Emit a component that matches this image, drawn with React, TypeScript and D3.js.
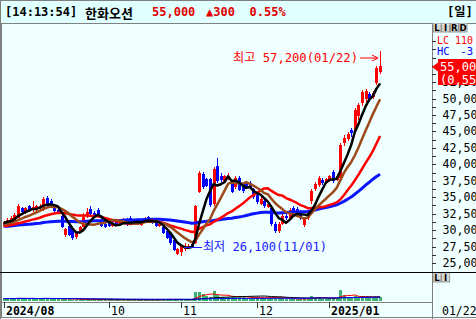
import React from "react";
import * as d3 from "d3";

const W = 476;
const H = 319;

// 2024/08/16 .. 2025/01/22 daily candles
const opens = [
  30800, 31000, 31300, 31600, 31900, 33400, 32600, 33700, 33000, 33000, 33300,
  33000, 34900, 34500, 33300, 33100, 32200, 29300, 30700, 30200, 28900, 29900,
  30500, 32000, 33200, 32600, 33000, 31600, 31000,
  31100, 30700, 31200, 30800, 31200, 31600, 31900, 31000, 31400, 30800, 31300,
  32000, 31500, 31200, 30700, 30400, 29800, 29500, 28500, 26400,
  26700, 27100, 27300, 27900, 28000, 35800, 38500, 37800, 37700, 33900, 39800,
  38300, 37500, 37800, 37300, 36500, 38000, 37000, 37000, 37200, 36200,
  35300, 34000, 34500, 33500, 33300, 31000, 29800, 31000, 32200, 31900, 33300,
  33200, 32600, 30800, 31800, 34400, 36200, 36800, 37600, 37200,
  37500, 38800, 37600, 38000, 43300, 43800, 45200, 45200, 47300, 49300, 49900,
  50700, 50200, 52400, 54000,
];
const highs = [
  31400, 31900, 32200, 32600, 33900, 33500, 33500, 33800, 34500, 33800, 33900,
  35000, 35200, 34700, 33500, 33300, 32400, 30300, 30900, 30400, 29800, 30700,
  32600, 33400, 33700, 32900, 33400, 31800, 31200,
  31300, 31300, 31400, 31200, 31900, 31800, 32100, 31600, 31600, 31700, 32000,
  32200, 31700, 31400, 31200, 30600, 30000, 29700, 28700, 27300,
  27800, 28000, 27900, 28200, 33800, 39000, 38800, 38000, 38000, 39600, 41000,
  38700, 38400, 38700, 37500, 38200, 38300, 37200, 37300, 37400, 36400,
  35600, 35200, 34700, 34300, 33500, 31200, 31200, 32500, 32400, 33400, 33600,
  33500, 32800, 32000, 32800, 36300, 37300, 38300, 38000, 38000,
  38400, 39200, 38500, 43300, 44500, 44900, 45500, 48600, 49400, 51300, 51500,
  51000, 51200, 55000, 57200,
];
const lows = [
  30600, 30800, 31100, 31400, 31800, 32500, 32400, 32800, 32800, 32900, 33100,
  32900, 33400, 33600, 32700, 32500, 30300, 29000, 29100, 28500, 28700, 29700,
  30400, 31800, 32300, 32000, 32100, 30400, 30300,
  30400, 30500, 30600, 30600, 31000, 30700, 30800, 30900, 30900, 30700, 31200,
  31300, 30900, 30500, 30500, 29400, 28600, 27800, 26800, 26200,
  26100, 26900, 27100, 27300, 27900, 35600, 36300, 36500, 33500, 33700, 37200,
  37300, 37300, 37600, 35600, 36300, 35900, 35700, 36200, 36300, 34800,
  34000, 33800, 33300, 33300, 30600, 29600, 29500, 30800, 31500, 31700, 32600,
  32200, 31600, 30500, 31600, 34000, 36000, 36600, 36800, 37000,
  37300, 37200, 37400, 37800, 42800, 43500, 44200, 45000, 46800, 48900, 49500,
  49500, 49900, 52000, 53800,
];
const closes = [
  31300, 31600, 31900, 32300, 33600, 32700, 33300, 33000, 33500, 33600, 33700,
  34800, 33700, 33900, 32900, 32700, 30500, 30100, 29300, 28800, 29500, 30400,
  32000, 32800, 32400, 32200, 32300, 30600, 30500,
  30600, 31100, 30800, 31000, 31700, 30900, 31000, 31400, 31100, 31500, 31800,
  31400, 31100, 30700, 31000, 29600, 28800, 28000, 27000, 27100,
  27600, 27300, 27600, 27500, 33700, 38700, 36600, 36700, 33800, 39300, 37500,
  37600, 38200, 38300, 35800, 37900, 36100, 35900, 36400, 36500, 35000,
  34300, 34800, 33600, 34000, 30900, 29800, 30900, 32200, 31800, 33100, 32800,
  32500, 31800, 31700, 32600, 36000, 37000, 38000, 37200, 37800,
  38200, 37500, 38300, 43000, 44000, 44600, 44700, 48200, 49000, 51000, 51200,
  49800, 50900, 54700, 55000,
];
const volumes = [
  2500, 2300, 2600, 2400, 3100, 2500, 2400, 2300, 2800, 2200, 2100,
  3300, 2600, 2300, 2100, 1900, 2700, 2000, 2200, 1500, 1400, 1300,
  1500, 1400, 1300, 1200, 1300, 1400, 1200,
  1300, 1100, 1200, 1400, 1000, 1200, 1100, 1300, 1500, 1200, 1100,
  1000, 1300, 1400, 1600, 1500, 1800, 1700, 1500, 1600,
  1500, 1300, 1400, 1200, 9000, 8700, 7000, 5000, 4500, 10000, 6000,
  4500, 4000, 4200, 5000, 4500, 4000, 3600, 3500, 3200, 3800,
  3500, 3000, 3300, 2800, 4000, 3800, 3200, 3000, 2000, 2500, 1800,
  1600, 2200, 2800, 2300, 5000, 3000, 4000, 2500, 2200,
  2800, 3000, 2600, 11000, 6000, 4500, 3800, 5000, 4200, 4800, 3900,
  3500, 3400, 4300, 4300,
];
// closes before 2024/08/16, used only for the moving averages
const priorCloses = [
  29800, 30200, 30600, 30100, 29700, 29900, 30400, 30800, 31200, 30900,
  30500, 30000, 29600, 29900, 30300, 30700, 31100, 31400, 31000, 30600,
  30200, 30500, 30900, 31300, 31000, 30700, 30300, 29900, 30200, 30600,
  31000, 30800, 30400, 30100, 30500, 30900, 31200, 30900, 30600, 30300,
  30000, 29700, 29900, 30300, 30600, 30400, 30100, 30500, 30800, 30700,
  30400, 30700, 30900, 30500, 30600, 30800, 31200, 31000, 31100,
];

const maPeriods = [50, 20, 10, 5];
const maColors = ["#0a14ff", "#ff0000", "#9c4a1a", "#000000"];
const maWidths = [3, 2.5, 2.5, 2.5];
const volMaPeriods = [5, 20, 60];
const volMaColors = ["#ff0000", "#000000", "#0000ff"];

const xTickIndex = [0, 29, 49, 70, 90];
const xTickLabels = ["2024/08", "10", "11", "12", "2025/01"];
const xTickBold = [true, false, false, false, true];

const yLabelValues = [25000, 27500, 30000, 32500, 35000, 37500, 40000, 42500, 45000, 47500, 50000, 52500];

const MONO = "'DejaVu Sans Mono', 'Noto Sans CJK KR', monospace";
const KR = "'Noto Sans CJK KR', sans-serif";

export default function App() {
  const n = closes.length;
  const x = d3.scaleLinear().domain([0, n - 1]).range([3.6, 380.1]);
  const y = d3.scaleLinear().domain([25000, 50000]).range([263, 98.6]);
  const yv = d3.scaleLinear().domain([0, 26000]).range([301, 275]);

  const all = priorCloses.concat(closes);
  const off = priorCloses.length;
  const ma = (p: number) =>
    closes.map((_, i) => d3.mean(all.slice(i + off - p + 1, i + off + 1)) as number);
  const volMa = (p: number) =>
    volumes.map((_, i) => d3.mean(volumes.slice(Math.max(0, i - p + 1), i + 1)) as number);

  const priceLine = d3.line<number>().x((_, i) => x(i)).y((d) => y(d));
  const volLine = d3.line<number>().x((_, i) => x(i)).y((d) => yv(d));

  const minorTicks = d3.range(25000, 58751, 1250);
  const fmt = d3.format(",");

  const btn = (bx: number, by: number, label: string) => (
    <g key={label + bx + by}>
      <rect x={bx} y={by} width={8} height={8.5} fill="#d8d8d0" stroke="#808080" strokeWidth={0.8} />
      <line x1={bx} y1={by + 0.5} x2={bx + 8} y2={by + 0.5} stroke="#fff" strokeWidth={0.8} />
      <text x={bx + 4} y={by + 7.3} fontSize={8.5} fontWeight="bold" textAnchor="middle" fontFamily="'DejaVu Sans', sans-serif" fill="#000">{label}</text>
    </g>
  );

  return (
    <svg width={W} height={H} style={{ position: "fixed", left: 0, top: 0 }}>
      <rect x={0} y={0} width={W} height={H} fill="#f0ffff" />
      {/* top bar */}
      <rect x={0} y={0} width={W} height={23} fill="#e0ffff" />
      <line x1={0} y1={0.5} x2={W} y2={0.5} stroke="#808080" />
      <line x1={0} y1={23.5} x2={W} y2={23.5} stroke="#808080" />
      <line x1={0.5} y1={0} x2={0.5} y2={H} stroke="#808080" />
      <g fontFamily={MONO} fontWeight="bold" fontSize={12} dominantBaseline="central">
        <text x={5} y={12} fill="#000">[14:13:54]</text>
        <text x={85} y={12} fill="#000" fontFamily={KR} fontSize={13}>한화오션</text>
        <text x={152} y={12} fill="#e00000">55,000</text>
        <text x={206} y={12} fill="#e00000">▲300</text>
        <text x={249.5} y={12} fill="#e00000">0.55%</text>
        <text x={447} y={12} fill="#000" textLength={26} lengthAdjust="spacingAndGlyphs">[일]</text>
      </g>

      {/* frame lines */}
      <line x1={1.5} y1={24} x2={1.5} y2={317} stroke="#808080" />
      <line x1={432.5} y1={24} x2={432.5} y2={H} stroke="#808080" />
      <line x1={0} y1={272.5} x2={W} y2={272.5} stroke="#000" />
      <line x1={0} y1={302.5} x2={432} y2={302.5} stroke="#808080" />
      <line x1={0} y1={317.5} x2={W} y2={317.5} stroke="#808080" />

      <defs>
        <clipPath id="main"><rect x={2} y={24} width={430} height={248} /></clipPath>
        <clipPath id="vol"><rect x={2} y={273} width={430} height={29} /></clipPath>
      </defs>

      {/* candles */}
      <g clipPath="url(#main)">
        {closes.map((c, i) => {
          const o = opens[i];
          const up = c >= o;
          const col = up ? "#ff0000" : "#0000ff";
          const cx = Math.round(x(i));
          const top = Math.min(y(o), y(c));
          const bh = Math.max(1, Math.abs(y(o) - y(c)));
          return (
            <g key={i} shapeRendering="crispEdges">
              <rect x={cx} y={y(highs[i])} width={1} height={y(lows[i]) - y(highs[i])} fill={col} />
              <rect x={cx - 1} y={top} width={3} height={bh} fill={col} />
            </g>
          );
        })}
        {maPeriods.map((p, k) => (
          <path key={p} d={priceLine(ma(p)) || ""} fill="none" stroke={maColors[k]} strokeWidth={maWidths[k]} strokeLinejoin="round" />
        ))}
        {/* annotations */}
        <text x={233} y={58} fontFamily={MONO} fontSize={12} fill="#ff0000" dominantBaseline="central" textLength={125} lengthAdjust="spacingAndGlyphs">최고 57,200(01/22)</text>
        <line x1={360} y1={58} x2={377} y2={58} stroke="#ff0000" strokeWidth={1} />
        <path d="M378,58 L372,55 M378,58 L372,61" stroke="#ff0000" strokeWidth={1} fill="none" />
        <line x1={184} y1={247.5} x2={202} y2={247.5} stroke="#1a1aff" strokeWidth={1} />
        <text x={203} y={247} fontFamily={MONO} fontSize={12} fill="#1a1aff" dominantBaseline="central" textLength={124} lengthAdjust="spacingAndGlyphs">최저 26,100(11/01)</text>
      </g>

      {/* right price axis */}
      <g>
        {minorTicks.map((v) => (
          <line key={v} x1={432} y1={Math.round(y(v)) + 0.5} x2={436} y2={Math.round(y(v)) + 0.5} stroke="#333" />
        ))}
        {yLabelValues.map((v) => (
          <text key={v} x={442.5} y={y(v)} fontFamily={MONO} fontSize={11.6} fill="#000" dominantBaseline="central">{fmt(v)}</text>
        ))}
        <text x={437} y={39.5} fontFamily={MONO} fontSize={10.5} fill="#ff0000" dominantBaseline="central" textLength={36} lengthAdjust="spacingAndGlyphs">LC 110</text>
        <text x={437} y={50.5} fontFamily={MONO} fontSize={10.5} fill="#0000ff" dominantBaseline="central">HC</text>
        <text x={473} y={50.5} fontFamily={MONO} fontSize={10.5} fill="#0000ff" dominantBaseline="central" textAnchor="end">-3</text>
        <rect x={438} y={59} width={38} height={26} fill="#ff0000" />
        <path d="M432,67 L438,62.5 L438,71.5 Z" fill="#ff0000" />
        <text x={440} y={66.5} fontFamily={MONO} fontSize={12} fill="#fff" dominantBaseline="central">55,000</text>
        <text x={440} y={79.5} fontFamily={MONO} fontSize={12} fill="#fff" dominantBaseline="central">(0,55%</text>
        {btn(433, 23.5, "L")}
        {btn(441.7, 23.5, "I")}
        {btn(450.3, 23.5, "R")}
        {btn(459, 23.5, "D")}
        {btn(433, 273.5, "L")}
        {btn(441.7, 273.5, "I")}
      </g>

      {/* volume */}
      <g clipPath="url(#vol)">
        {volumes.map((v, i) => (
          <rect key={i} shapeRendering="crispEdges" x={Math.round(x(i)) - 1} y={yv(v)} width={3} height={yv(0) - yv(v)} fill="#3cb371" />
        ))}
        {volMaPeriods.map((p, k) => (
          <path key={p} d={volLine(volMa(p)) || ""} fill="none" stroke={volMaColors[k]} strokeWidth={1} />
        ))}
      </g>

      {/* x axis */}
      <g>
        {xTickIndex.map((ti, k) => {
          const tx = Math.round(x(ti)) + 0.5;
          return (
            <g key={ti}>
              <line x1={tx} y1={302} x2={tx} y2={308} stroke="#333" />
              <text x={tx + 1.5} y={311} fontFamily={MONO} fontSize={11.5} fontWeight={xTickBold[k] ? "bold" : "normal"} fill="#000" dominantBaseline="central">{xTickLabels[k]}</text>
            </g>
          );
        })}
        <text x={442} y={311} fontFamily={MONO} fontSize={11.5} fill="#000" dominantBaseline="central">01/22</text>
      </g>
    </svg>
  );
}
